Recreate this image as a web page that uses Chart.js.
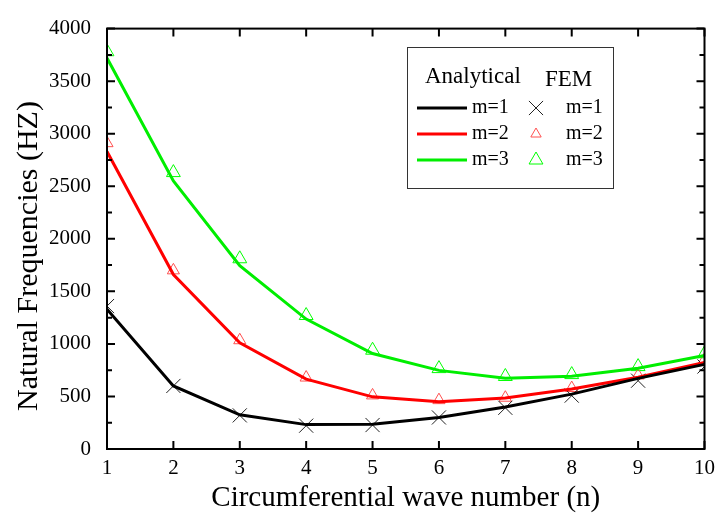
<!DOCTYPE html>
<html>
<head>
<meta charset="utf-8">
<script src="https://cdn.jsdelivr.net/npm/chart.js@4/dist/chart.umd.min.js"></script>
<style>
  html, body { margin: 0; padding: 0; background: #fff; }
  #wrap { width: 722px; height: 516px; position: relative; }
</style>
</head>
<body>
<div id="wrap"><canvas id="freqChart" width="722" height="516"></canvas></div>
<script>
// circumferential wave numbers
const waveNumbers = [1, 2, 3, 4, 5, 6, 7, 8, 9, 10];

// analytical curves (lines)
const analyticM1 = [1330, 600, 325, 232, 235, 300, 400, 522, 672, 805];
const analyticM2 = [2830, 1660, 1010, 665, 496, 450, 485, 570, 683, 824];
const analyticM3 = [3720, 2550, 1745, 1236, 908, 748, 674, 693, 768, 890];

// FEM results (markers)
const femM1 = [1360, 600, 320, 222, 228, 300, 392, 508, 650, 785];
const femM2 = [2910, 1700, 1035, 680, 510, 465, 488, 580, 700, 850];
const femM3 = [3780, 2630, 1810, 1270, 940, 765, 690, 708, 784, 906];

const yTicks = [0, 500, 1000, 1500, 2000, 2500, 3000, 3500, 4000];
const yMinorStep = 250;
const yTitle = 'Natural Frequencies (HZ)';

const FONT = '"Liberation Serif", "DejaVu Serif", serif';

function pairs(ys) {
    return waveNumbers.map((n, i) => ({ x: n, y: ys[i] }));
}

function lineSet(label, ys, color) {
    return {
        label: label,
        data: pairs(ys),
        borderColor: color,
        borderWidth: 3,
        pointRadius: 0,
        fill: false,
        tension: 0
    };
}

function markSet(label, ys, color, style, r) {
    return {
        label: label,
        data: pairs(ys),
        showLine: false,
        pointStyle: style,
        pointRadius: r,
        pointBorderWidth: 1,
        pointBorderColor: color,
        pointBackgroundColor: 'rgba(0,0,0,0)'
    };
}

const frameAndLegend = {
    id: 'frameAndLegend',
    afterDraw(chart) {
        const ctx = chart.ctx;
        const a = chart.chartArea;
        const xs = chart.scales.x;
        const ys = chart.scales.y;
        ctx.save();
        ctx.strokeStyle = '#000';
        ctx.lineWidth = 2;
        ctx.strokeRect(a.left, a.top, a.right - a.left, a.bottom - a.top);

        // inward ticks
        ctx.beginPath();
        waveNumbers.forEach(n => {
            const px = xs.getPixelForValue(n);
            ctx.moveTo(px, a.bottom); ctx.lineTo(px, a.bottom - 8);
            ctx.moveTo(px, a.top); ctx.lineTo(px, a.top + 8);
        });
        for (let v = 0; v <= 4000; v += yMinorStep) {
            const py = ys.getPixelForValue(v);
            const len = v % 500 === 0 ? 8 : 5;
            ctx.moveTo(a.left, py); ctx.lineTo(a.left + len, py);
            ctx.moveTo(a.right, py); ctx.lineTo(a.right - len, py);
        }
        ctx.stroke();

        // y axis title (sits a bit below the plot centre in the original)
        ctx.save();
        ctx.translate(29, 256);
        ctx.rotate(-Math.PI / 2);
        ctx.fillStyle = '#000';
        ctx.font = '30px ' + FONT;
        ctx.textAlign = 'center';
        ctx.textBaseline = 'middle';
        ctx.fillText(yTitle, 0, 0);
        ctx.restore();

        // legend box
        const bx = 407, by = 47, bw = 206, bh = 141;
        ctx.fillStyle = '#fff';
        ctx.fillRect(bx, by, bw, bh);
        ctx.lineWidth = 1;
        ctx.strokeStyle = '#333';
        ctx.strokeRect(bx + 0.5, by + 0.5, bw, bh);

        ctx.fillStyle = '#000';
        ctx.font = '23px ' + FONT;
        ctx.textBaseline = 'middle';
        ctx.textAlign = 'left';
        ctx.fillText('Analytical', 425, 77);
        ctx.fillText('FEM', 545, 80);

        ctx.font = '20px ' + FONT;
        const rows = [
            { text: 'm=1', color: '#000', mark: 'crossRot', mcolor: '#222', r: 10 },
            { text: 'm=2', color: '#ff0000', mark: 'triangle', mcolor: '#ff5050', r: 6 },
            { text: 'm=3', color: '#00ee00', mark: 'triangle', mcolor: '#00ff00', r: 8 }
        ];
        rows.forEach((row, i) => {
            const y = 108 + i * 26;
            ctx.strokeStyle = row.color;
            ctx.lineWidth = 3;
            ctx.beginPath();
            ctx.moveTo(417, y); ctx.lineTo(467, y);
            ctx.stroke();
            ctx.fillStyle = '#000';
            ctx.fillText(row.text, 472, y);
            ctx.fillText(row.text, 566, y);
            ctx.strokeStyle = row.mcolor;
            ctx.fillStyle = 'rgba(0,0,0,0)';
            ctx.lineWidth = 1;
            Chart.helpers.drawPoint(ctx, { pointStyle: row.mark, radius: row.r, borderWidth: 1 }, 536, y);
        });
        ctx.restore();
    }
};

new Chart(document.getElementById('freqChart'), {
    type: 'line',
    data: {
        datasets: [
            lineSet('Analytical m=1', analyticM1, '#000000'),
            lineSet('Analytical m=2', analyticM2, '#ff0000'),
            lineSet('Analytical m=3', analyticM3, '#00ee00'),
            markSet('FEM m=1', femM1, '#222222', 'crossRot', 10),
            markSet('FEM m=2', femM2, '#ff5050', 'triangle', 7),
            markSet('FEM m=3', femM3, '#00ff00', 'triangle', 8)
        ]
    },
    options: {
        responsive: false,
        maintainAspectRatio: false,
        animation: false,
        devicePixelRatio: 1,
        layout: { padding: { top: 22, right: 13, left: 0, bottom: 0 } },
        plugins: { legend: { display: false }, tooltip: { enabled: false } },
        scales: {
            x: {
                type: 'linear',
                min: 1,
                max: 10,
                afterFit: s => { s.height = 67; },
                afterBuildTicks: s => { s.ticks = waveNumbers.map(v => ({ value: v })); },
                grid: { display: false, drawTicks: false },
                border: { display: false },
                ticks: {
                    color: '#000', padding: 7, autoSkip: false, maxRotation: 0,
                    font: { family: FONT, size: 21 },
                    callback: v => String(v)
                },
                title: {
                    display: true,
                    text: 'Circumferential wave number (n)',
                    color: '#000',
                    font: { family: FONT, size: 29 },
                    padding: { top: 0, bottom: 0 }
                }
            },
            y: {
                min: 0,
                max: 4000,
                afterFit: s => { s.width = 107; },
                afterBuildTicks: s => { s.ticks = yTicks.map(v => ({ value: v })); },
                grid: { display: false, drawTicks: false },
                border: { display: false },
                ticks: {
                    color: '#000', padding: 16, autoSkip: false,
                    font: { family: FONT, size: 21 },
                    callback: v => String(v)
                },
                title: { display: false }
            }
        }
    },
    plugins: [frameAndLegend]
});
</script>
</body>
</html>
